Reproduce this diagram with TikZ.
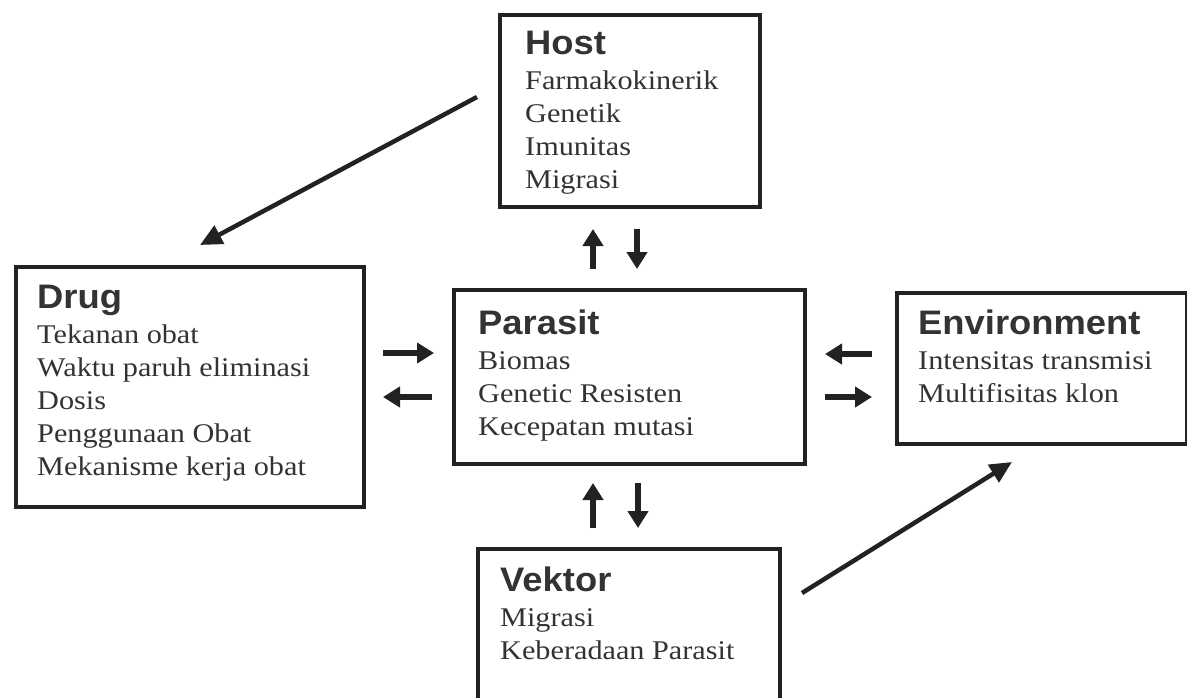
\documentclass[tikz,border=0pt]{standalone}
\usepackage{fontspec}
\setmainfont{Liberation Serif}[FakeStretch=1.12]
\newfontfamily\headfam{Liberation Sans}[FakeStretch=1.07]
\usetikzlibrary{arrows.meta}
\definecolor{ink}{HTML}{222222}
\definecolor{txt}{HTML}{333333}
\newcommand{\hd}[1]{{\headfam\bfseries\fontsize{34}{35}\selectfont #1}}
\begin{document}
\begin{tikzpicture}[x=1pt,y=-1pt,
  box/.style={draw=ink, line width=4pt, inner sep=0pt, anchor=north west, fill=white},
  lbl/.style={anchor=north west, inner sep=0pt, align=left, text=txt,
    font=\fontsize{27}{33}\selectfont},
  big/.style={draw=ink, line width=4.5pt, -{Triangle[length=22pt,width=20pt]}},
  small/.style={draw=ink, line width=5.5pt, -{Triangle[length=17pt,width=20pt]}}]
\clip (0,0) rectangle (1187,697);
\fill[white] (0,0) rectangle (1187,697);
% boxes
\node[box, minimum width=260pt, minimum height=192pt] (host) at (498,13) {};
\node[box, minimum width=348pt, minimum height=240pt] (drug) at (14,265) {};
\node[box, minimum width=351pt, minimum height=174pt] (parasit) at (452,288) {};
\node[box, minimum width=290pt, minimum height=151pt] (env) at (895,291) {};
\node[box, minimum width=302pt, minimum height=170pt] (vektor) at (476,547) {};
% texts
\node[lbl] (hostt) at (525,31) {\hd{Host}\\[2pt]Farmakokinerik\\Genetik\\Imunitas\\Migrasi};
\node[lbl] (drugt) at (37,285) {\hd{Drug}\\[2pt]Tekanan obat\\Waktu paruh eliminasi\\Dosis\\Penggunaan Obat\\Mekanisme kerja obat};
\node[lbl] (parasitt) at (478,310) {\hd{Parasit}\\[2pt]Biomas\\Genetic Resisten\\Kecepatan mutasi};
\node[lbl] (envt) at (918,310) {\hd{Environment}\\[2pt]Intensitas transmisi\\Multifisitas klon};
\node[lbl] (vektort) at (500,567) {\hd{Vektor}\\[2pt]Migrasi\\Keberadaan Parasit};
% arrow end points
\coordinate (hd1) at (477,97);   \coordinate (hd2) at (200,245);
\coordinate (ve1) at (802,593);  \coordinate (ve2) at (1012,462);
\coordinate (hpU1) at (593,269); \coordinate (hpU2) at (593,229);
\coordinate (hpD1) at (637,229); \coordinate (hpD2) at (637,269);
\coordinate (pvU1) at (593,528); \coordinate (pvU2) at (593,483);
\coordinate (pvD1) at (638,483); \coordinate (pvD2) at (638,528);
\coordinate (dpR1) at (383,353); \coordinate (dpR2) at (434,353);
\coordinate (dpL1) at (432,397); \coordinate (dpL2) at (383,397);
\coordinate (epL1) at (872,354); \coordinate (epL2) at (825,354);
\coordinate (epR1) at (825,397); \coordinate (epR2) at (872,397);
% connectors
\draw[big] (hd1) -- (hd2);
\draw[big] (ve1) -- (ve2);
\draw[small] (hpU1) -- (hpU2);
\draw[small] (hpD1) -- (hpD2);
\draw[small] (pvU1) -- (pvU2);
\draw[small] (pvD1) -- (pvD2);
\draw[small] (dpR1) -- (dpR2);
\draw[small] (dpL1) -- (dpL2);
\draw[small] (epL1) -- (epL2);
\draw[small] (epR1) -- (epR2);
\end{tikzpicture}
\end{document}
